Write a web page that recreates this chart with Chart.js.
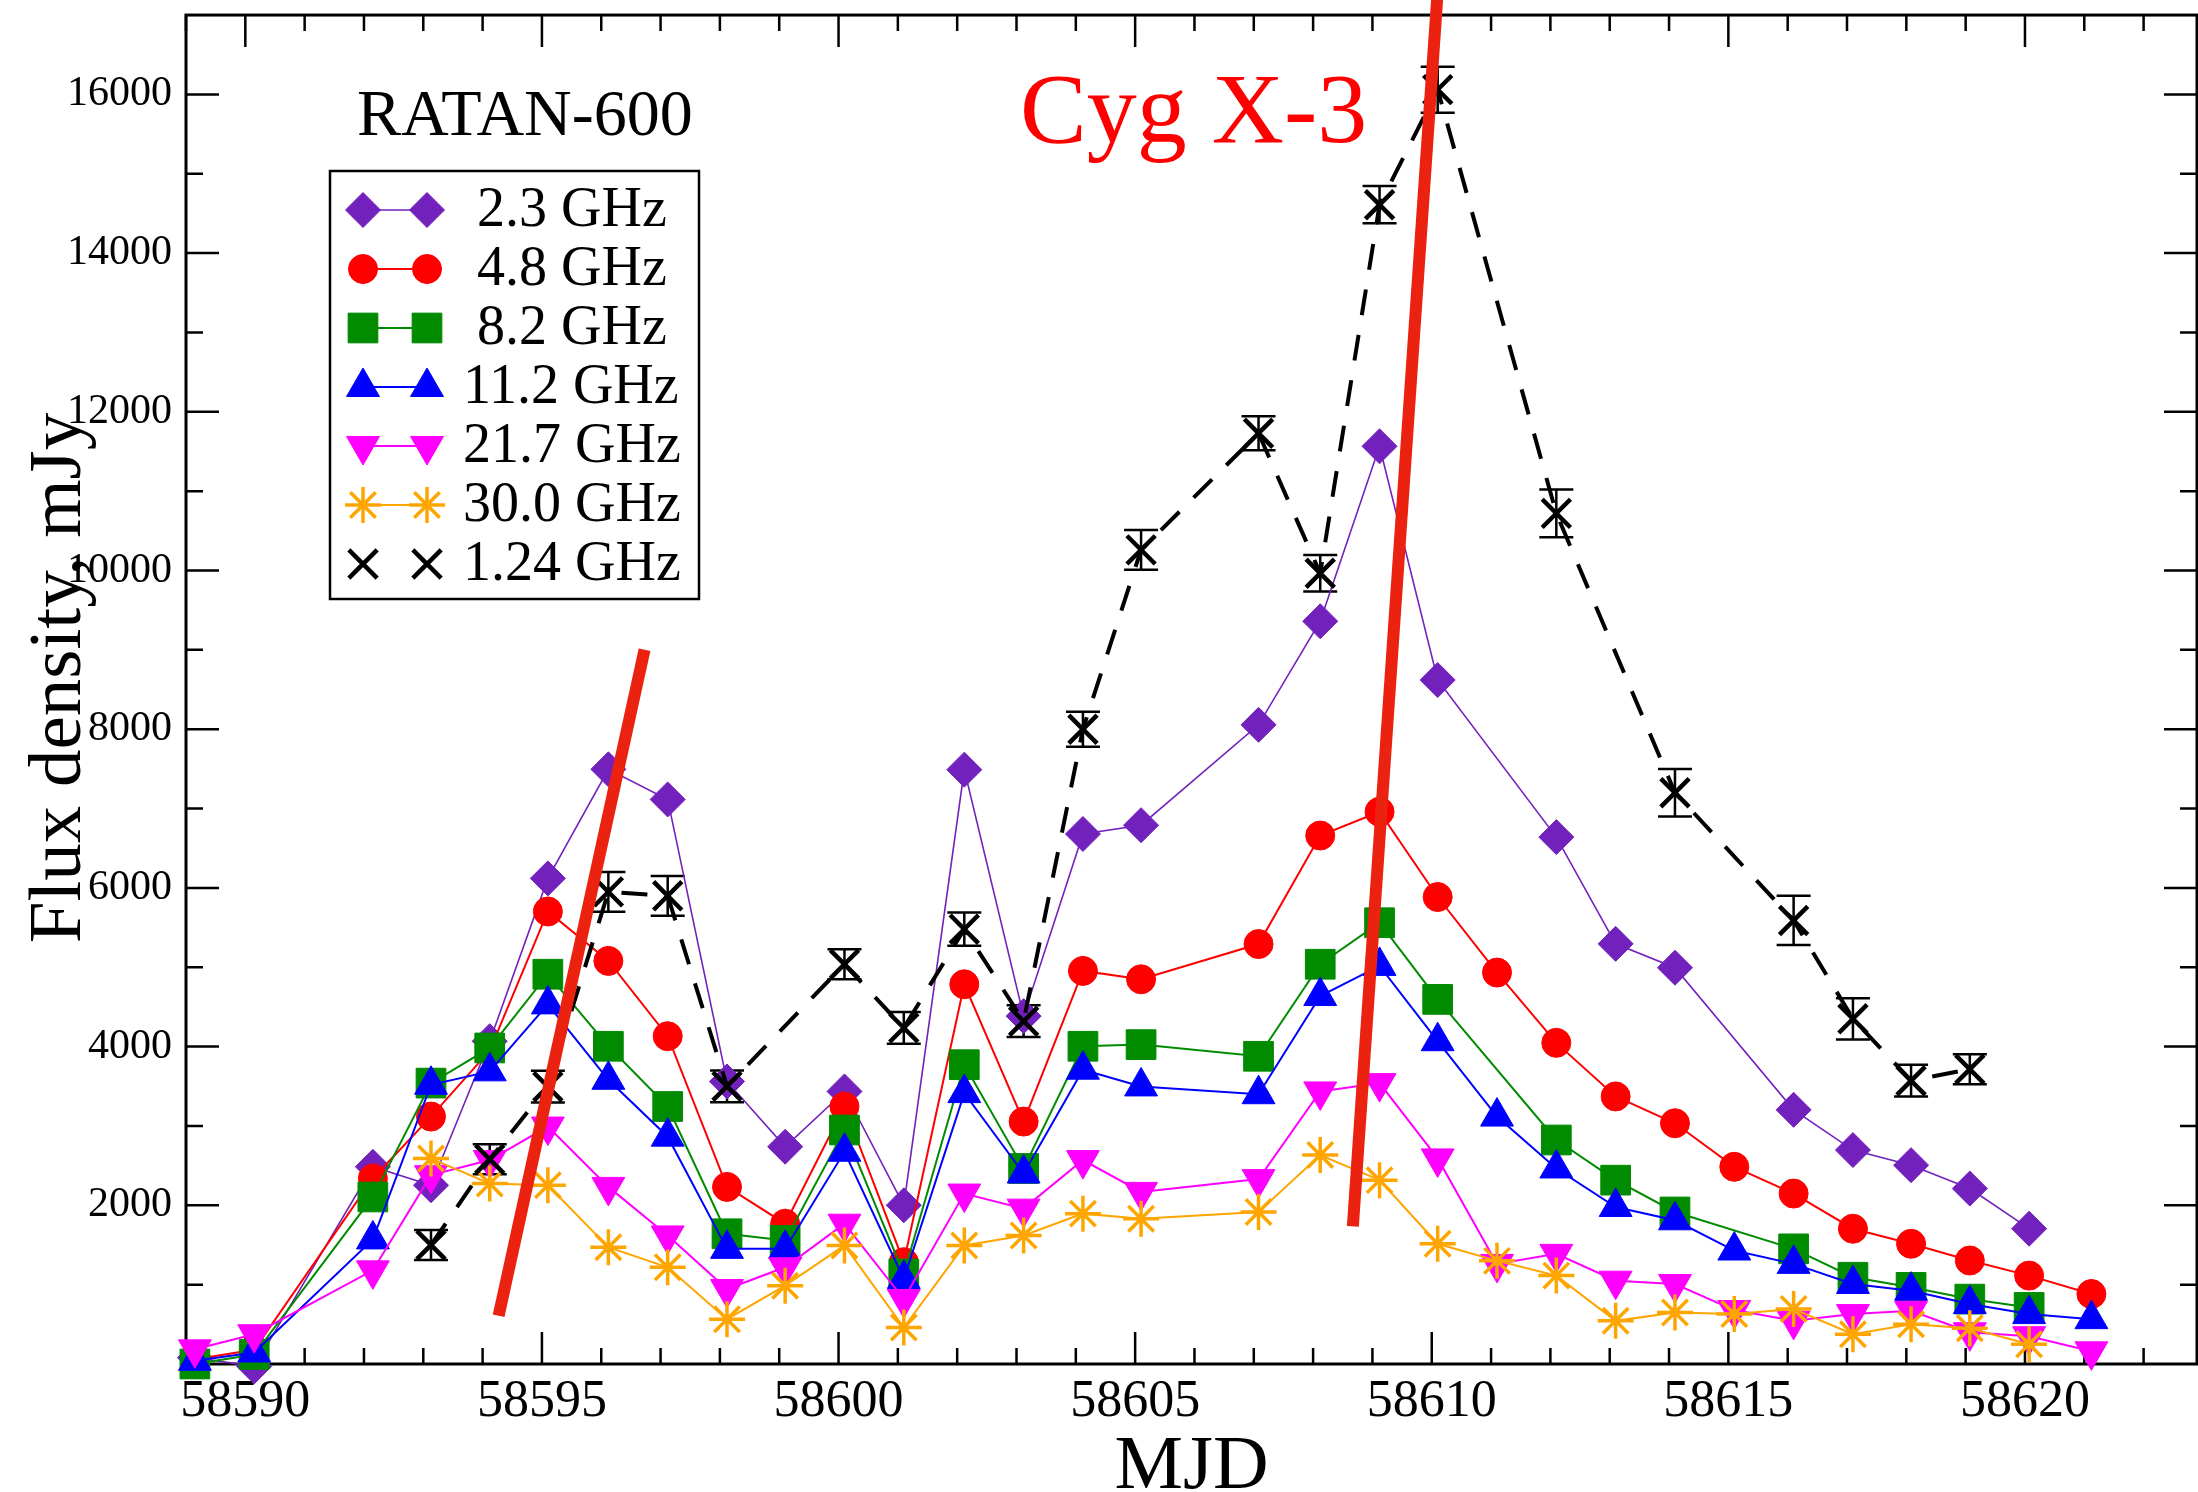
<!DOCTYPE html>
<html lang="en">
<head>
  <meta charset="UTF-8">
  <title>Cyg X-3 RATAN-600 light curves</title>
  <script src="https://cdn.jsdelivr.net/npm/chart.js"></script>
  <style>
    html, body { margin: 0; padding: 0; background: #fff; }
  </style>
</head>
<body>
  <canvas id="fluxChart" width="2198" height="1492"></canvas>

  <script>
// observation epochs, MJD
const mjd = [58589.15, 58590.15, 58592.15, 58593.13, 58594.12, 58595.1, 58596.12, 58597.12, 58598.12, 58599.1,
             58600.1, 58601.1, 58602.12, 58603.12, 58604.12, 58605.1, 58607.08, 58608.12, 58609.12, 58610.1,
             58611.1, 58612.1, 58613.1, 58614.1, 58615.1, 58616.1, 58617.1, 58618.08, 58619.07, 58620.07, 58621.12];

// flux density, mJy (null = no measurement that day)
const flux2_3  = [80, -30, 2485, 2253, 4068, 6120, 7495, 7115, 3561, 2738, 3435, 2000, 7490, 4384, 6680, 6790, 8055, 9360, 11565, 8620,
                  null, 6640, 5295, 4994, null, 3203, 2696, 2506, 2211, 1705, null];
const flux4_8  = [60, 180, 2338, 3118, 3950, 5703, 5080, 4131, 2232, 1768, 3245, 1283, 4785, 3055, 4954, 4848, 5292, 6660, 6960, 5885,
                  4933, 4047, 3372, 3034, 2485, 2148, 1705, 1515, 1304, 1114, 882];
const flux8_2  = [0, 120, 2105, 3540, 3983, 4912, 4004, 3245, 1641, 1557, 2949, 1135, 3772, 2464, 4004, 4025, 3878, 5038, 5561, 4595,
                  null, 2823, 2317, 1916, null, 1451, 1093, 966, 818, 713, null];
const flux11_2 = [40, 145, 1570, 3519, 3688, 4532, 3582, 2865, 1451, 1451, 2675, 1072, 3414, 2401, 3709, 3498, 3400, 4637, 5017, 4068,
                  3118, 2464, 1979, 1811, 1430, 1262, 1008, 924, 755, 629, 565];
const flux21_7 = [185, 375, 1180, 2380, 2570, 2992, 2232, 1620, 945, 1219, 1768, 818, 2148, 1958, 2570, 2169, 2330, 3435, 3540, 2591,
                  1261, 1388, 1050, 1008, 680, 544, 629, 671, 400, 350, 160];
const flux30_0 = [null, null, null, 2590, 2274, 2253, 1472, 1219, 565, 987, 1494, 460, 1494, 1620, 1895, 1831, 1916, 2633, 2317, 1515,
                  1300, 1114, 544, 650, 630, 692, 375, 502, 450, 249, null];
const flux1_24 = [null, null, null, 1500, 2580, 3495, 5950, 5900, 3500, null, 5038, 4236, 5480, 4320, 8000, 10260, 11730, 9965, 14610, 16060,
                  null, 10720, null, 7200, null, 5590, 4350, 3570, 3715, null, null];
const err1_24  = [null, null, null, 190, 190, 200, 250, 250, 200, null, 190, 200, 210, 200, 220, 250, 215, 230, 235, 290,
                  null, 300, null, 300, null, 310, 260, 200, 190, null, null];

// axis tick labels
const xTicks = [58590, 58595, 58600, 58605, 58610, 58615, 58620];
const yTicks = [2000, 4000, 6000, 8000, 10000, 12000, 14000, 16000];

// the two hand-drawn red marks, in data units [mjd, mJy]
const mark1 = [[58594.27, 608], [58596.73, 9001]];
const mark2 = [[58608.67, 1734], [58610.1, 17300]];

const FONT = "'Liberation Serif', 'Times New Roman', serif";

function points(vals, errs) {
  const out = [];
  vals.forEach((v, i) => {
    if (v === null) return;
    const p = { x: mjd[i], y: v };
    if (errs && errs[i]) p.err = errs[i];
    out.push(p);
  });
  return out;
}

function series(label, vals, color, style, radius, extra) {
  return Object.assign({
    label: label,
    data: points(vals),
    borderColor: color,
    backgroundColor: color,
    pointBackgroundColor: color,
    pointBorderColor: color,
    borderWidth: 2,
    pointStyle: style,
    pointRadius: radius,
    pointHoverRadius: radius,
    pointBorderWidth: 1,
    tension: 0,
    clip: false
  }, extra || {});
}

const datasets = [
  series('2.3 GHz',  flux2_3,  'rgb(114,33,188)', 'rectRot',  17.5, { borderWidth: 1.6, order: 7 }),
  series('4.8 GHz',  flux4_8,  '#ff0000',         'circle',   14.5, { order: 6 }),
  series('8.2 GHz',  flux8_2,  'rgb(0,139,0)',    'rect',     21,   { order: 5 }),
  series('11.2 GHz', flux11_2, '#0000ff',         'triangle', 19,   { order: 4 }),
  series('21.7 GHz', flux21_7, '#ff00ff',         'triangle', 19,   { order: 3, pointRotation: 180 }),
  series('30.0 GHz', flux30_0, 'rgb(255,165,0)',  'star',     18,   { order: 2, pointBorderWidth: 3.5 }),
  series('1.24 GHz', flux1_24, '#000000',         'crossRot', 20,   { order: 1, borderWidth: 4, borderDash: [26, 20], pointBorderWidth: 4.5 })
];
datasets[6].data = points(flux1_24, err1_24);

const decorPlugin = {
  id: 'decor',
  beforeDatasetsDraw(chart) {
    const { ctx, chartArea: a, scales: { x, y } } = chart;
    ctx.save();
    ctx.strokeStyle = '#000';
    ctx.lineWidth = 2.5;
    ctx.beginPath();
    for (let v = Math.ceil(x.min); v <= x.max; v++) {
      const px = x.getPixelForValue(v);
      const len = v % 5 === 0 ? 32 : 16;
      ctx.moveTo(px, a.bottom); ctx.lineTo(px, a.bottom - len);
      ctx.moveTo(px, a.top); ctx.lineTo(px, a.top + len);
    }
    for (let v = 1000; v < y.max; v += 1000) {
      const py = y.getPixelForValue(v);
      const len = v % 2000 === 0 ? 33 : 17;
      ctx.moveTo(a.left, py); ctx.lineTo(a.left + len, py);
      ctx.moveTo(a.right, py); ctx.lineTo(a.right - len, py);
    }
    ctx.stroke();
    ctx.lineWidth = 3;
    ctx.strokeRect(a.left, a.top, a.right - a.left, a.bottom - a.top);

    // error bars of the 1.24 GHz points
    ctx.lineWidth = 2.5;
    ctx.beginPath();
    chart.data.datasets[6].data.forEach(p => {
      if (!p.err) return;
      const px = x.getPixelForValue(p.x);
      const hi = y.getPixelForValue(p.y + p.err);
      const lo = y.getPixelForValue(p.y - p.err);
      ctx.moveTo(px, hi); ctx.lineTo(px, lo);
      ctx.moveTo(px - 17, hi); ctx.lineTo(px + 17, hi);
      ctx.moveTo(px - 17, lo); ctx.lineTo(px + 17, lo);
    });
    ctx.stroke();
    ctx.restore();
  },
  afterDraw(chart) {
    const { ctx, scales: { x, y } } = chart;
    ctx.save();

    // legend box
    ctx.fillStyle = '#fff';
    ctx.fillRect(330, 171, 369, 428);
    ctx.strokeStyle = '#000';
    ctx.lineWidth = 2.5;
    ctx.strokeRect(330, 171, 369, 428);
    chart.data.datasets.forEach((ds, i) => {
      const ry = 210 + i * 59;
      if (!ds.borderDash) {
        ctx.strokeStyle = ds.borderColor;
        ctx.lineWidth = ds.borderWidth;
        ctx.beginPath();
        ctx.moveTo(363, ry); ctx.lineTo(427, ry);
        ctx.stroke();
      }
      ctx.fillStyle = ds.pointBackgroundColor;
      ctx.strokeStyle = ds.pointBorderColor;
      ctx.lineWidth = ds.pointBorderWidth;
      const opts = { pointStyle: ds.pointStyle, radius: ds.pointRadius, rotation: ds.pointRotation || 0, borderWidth: ds.pointBorderWidth };
      Chart.helpers.drawPoint(ctx, opts, 363, ry);
      Chart.helpers.drawPoint(ctx, opts, 427, ry);
      ctx.fillStyle = '#000';
      ctx.font = '56px ' + FONT;
      ctx.textAlign = 'left';
      ctx.textBaseline = 'middle';
      ctx.fillText(ds.label.padStart(8, ' '), 463, ry + 1);
    });

    // labels
    ctx.textBaseline = 'alphabetic';
    ctx.fillStyle = '#000';
    ctx.font = '66px ' + FONT;
    ctx.fillText('RATAN-600', 357, 135);
    ctx.fillStyle = '#ff0000';
    ctx.font = '100px ' + FONT;
    ctx.fillText('Cyg X-3', 1020, 142);

    // axis titles
    ctx.fillStyle = '#000';
    ctx.font = '77px ' + FONT;
    ctx.textAlign = 'center';
    ctx.fillText('MJD', (chart.chartArea.left + chart.chartArea.right) / 2, 1488);
    ctx.save();
    ctx.translate(80, 678);
    ctx.rotate(-Math.PI / 2);
    ctx.font = '75px ' + FONT;
    ctx.fillText('Flux density, mJy', 0, 0);
    ctx.restore();

    // red marks
    ctx.strokeStyle = '#ec2211';
    ctx.lineWidth = 12;
    [mark1, mark2].forEach(m => {
      ctx.beginPath();
      ctx.moveTo(x.getPixelForValue(m[0][0]), y.getPixelForValue(m[0][1]));
      ctx.lineTo(x.getPixelForValue(m[1][0]), y.getPixelForValue(m[1][1]));
      ctx.stroke();
    });
    ctx.restore();
  }
};

const ctx = document.getElementById('fluxChart').getContext('2d');
new Chart(ctx, {
  type: 'line',
  data: { datasets: datasets },
  options: {
    responsive: false,
    animation: false,
    layout: { autoPadding: false, padding: { top: 15, right: 1, left: 0, bottom: 0 } },
    plugins: { legend: { display: false }, tooltip: { enabled: false } },
    scales: {
      x: {
        type: 'linear',
        min: 58589,
        max: 58622.9,
        grid: { display: false, drawTicks: false },
        border: { display: false },
        afterBuildTicks: s => { s.ticks = xTicks.map(v => ({ value: v })); },
        afterFit: s => { s.height = 128; },
        ticks: {
          font: { family: FONT, size: 52 },
          color: '#000',
          padding: 7,
          maxRotation: 0,
          autoSkip: false,
          callback: v => String(v)
        }
      },
      y: {
        min: 0,
        max: 17000,
        grid: { display: false, drawTicks: false },
        border: { display: false },
        afterBuildTicks: s => { s.ticks = yTicks.map(v => ({ value: v })); },
        afterFit: s => { s.width = 186; },
        ticks: {
          font: { family: FONT, size: 42, lineHeight: 0.05 },
          color: '#000',
          padding: 14,
          autoSkip: false,
          callback: v => String(v)
        }
      }
    }
  },
  plugins: [decorPlugin]
});
  </script>
</body>
</html>
